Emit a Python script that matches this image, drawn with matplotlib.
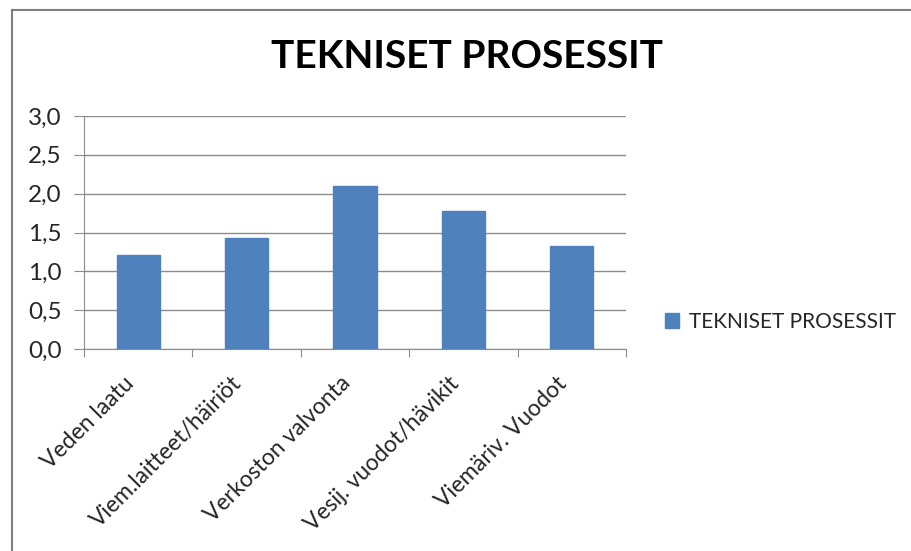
import matplotlib
matplotlib.use("Agg")
import matplotlib.pyplot as plt
from matplotlib.lines import Line2D
import matplotlib.transforms as mtransforms

categories = ["Veden laatu", "Viem.laitteet/häiriöt", "Verkoston valvonta",
              "Vesij. vuodot/hävikit", "Viemäriv. Vuodot"]
values = [1.21, 1.43, 2.10, 1.78, 1.32]
series_name = "TEKNISET PROSESSIT"
title = "TEKNISET PROSESSIT"
yticks = [0.0, 0.5, 1.0, 1.5, 2.0, 2.5, 3.0]
ytick_labels = ["0,0", "0,5", "1,0", "1,5", "2,0", "2,5", "3,0"]

W, H = 911, 551
fig = plt.figure(figsize=(W / 100, H / 100), dpi=100)
fig.patch.set_facecolor("white")

# plot area in pixels: x 84..626, y 116..349
ax = fig.add_axes([84 / W, 1 - 349 / H, (626 - 84) / W, (349 - 116) / H])
grid_c = "#8c8c8c"
txt_c = "#262626"
bars = ax.bar(range(len(values)), values, width=0.4, color="#4F81BD",
              edgecolor="#4F81BD", label=series_name, zorder=3)
ax.set_xlim(-0.5, len(values) - 0.5)
ax.set_ylim(0, 3.0)
ax.set_yticks(yticks)
ax.set_yticklabels(ytick_labels, fontsize=17.5, family="Lato", color=txt_c)
ax.yaxis.grid(True, color=grid_c, linewidth=1.0, zorder=0)
ax.tick_params(axis="y", length=7, color=grid_c, pad=9)
for s in ["top", "right"]:
    ax.spines[s].set_visible(False)
ax.spines["left"].set_color(grid_c)
ax.spines["bottom"].set_color(grid_c)

# category ticks at boundaries
ax.set_xticks([i - 0.5 for i in range(len(values) + 1)], minor=False)
ax.set_xticklabels([""] * (len(values) + 1))
ax.tick_params(axis="x", length=6, color=grid_c)
offset = mtransforms.ScaledTranslation(-8 / 100, -31 / 100, fig.dpi_scale_trans)
for i, c in enumerate(categories):
    ax.text(i, 0, c, transform=ax.get_xaxis_transform() + offset,
            rotation=45, ha="right", va="center", rotation_mode="anchor",
            fontsize=16.5, family="Lato", color=txt_c)

fig.text(467 / W, 1 - 57 / H, title, ha="center", va="center",
         fontsize=28, fontweight="bold", family="Lato", color="black")

# legend
fig.legend(handles=[bars], labels=[series_name], loc="center left",
           bbox_to_anchor=(646 / W, 1 - 322 / H), frameon=False,
           prop={"family": "Lato", "size": 15}, handlelength=0.7,
           handleheight=0.7, handletextpad=0.45, labelcolor=txt_c)

# chart frame
fig.add_artist(Line2D([12 / W, 12 / W], [0, 1 - 10 / H], transform=fig.transFigure,
                      color="#7f7f7f", linewidth=1.5))
fig.add_artist(Line2D([12 / W, 1], [1 - 10 / H, 1 - 10 / H], transform=fig.transFigure,
                      color="#7f7f7f", linewidth=1.5))

fig.savefig("out.png", dpi=100)
